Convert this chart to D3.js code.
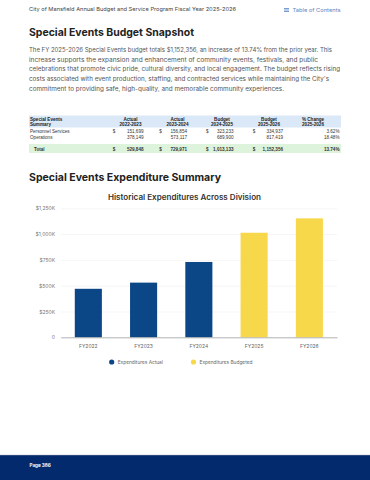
<!DOCTYPE html>
<html><head><meta charset="utf-8">
<script src="https://cdn.jsdelivr.net/npm/d3@7"></script>
<style>
html,body{margin:0;padding:0;background:#fff;}
svg{display:block;}
</style></head>
<body>
<svg id="page" width="370" height="480"></svg>
<script>
// ---- data ----
const years = ["FY2022","FY2023","FY2024","FY2025","FY2026"];
const expenditures = [470000, 529848, 729971, 1013133, 1152356];
const expTypes = ["Actual","Actual","Actual","Budgeted","Budgeted"];
const yTickValues = [0, 250000, 500000, 750000, 1000000, 1250000];
const yTickLabels = ["0","$250K","$500K","$750K","$1,000K","$1,250K"];
const legendLabels = ["Expenditures Actual","Expenditures Budgeted"];

const tableHead1 = ["Special Events","Actual","Actual","Budget","Budget","% Change"];
const tableHead2 = ["Summary","2022-2023","2023-2024","2024-2025","2025-2026","2025-2026"];
const rowNames = ["Personnel Services","Operations","Total"];
const col2022 = ["151,699","378,149","529,848"];
const col2023 = ["156,854","573,117","729,971"];
const col2024 = ["323,233","689,900","1,013,133"];
const col2025 = ["334,937","817,419","1,152,356"];
const colPct = ["3.62%","18.48%","13.74%"];
const showDollar = [true,false,true];

const bodyLines = [
 "The FY 2025-2026 Special Events budget totals $1,152,356, an increase of 13.74% from the prior year. This",
 "increase supports the expansion and enhancement of community events, festivals, and public",
 "celebrations that promote civic pride, cultural diversity, and local engagement. The budget reflects rising",
 "costs associated with event production, staffing, and contracted services while maintaining the City's",
 "commitment to providing safe, high-quality, and memorable community experiences."
];
const bodyWidths = [303, 289, 311, 300, 255];

const svg = d3.select("#page");
const F = "Inter, 'Open Sans', sans-serif";

// ---- page header ----
svg.append("text").attr("x",29).attr("y",11).attr("font-family",F).attr("font-size",5.2)
  .attr("fill","#444").attr("textLength",207).attr("lengthAdjust","spacingAndGlyphs")
  .text("City of Mansfield Annual Budget and Service Program Fiscal Year 2025-2026");
// TOC icon
[0,1.6,3.2].forEach(d=>svg.append("rect").attr("x",284).attr("y",8+d).attr("width",5).attr("height",0.8).attr("fill","#5a86c5"));
svg.append("text").attr("x",292.5).attr("y",12).attr("font-family",F).attr("font-size",5.2)
  .attr("fill","#5a86c5").attr("textLength",48).attr("lengthAdjust","spacingAndGlyphs").text("Table of Contents");

svg.append("text").attr("x",29).attr("y",35.5).attr("font-family",F).attr("font-weight",700)
  .attr("font-size",10.5).attr("fill","#222").attr("textLength",165).attr("lengthAdjust","spacingAndGlyphs")
  .text("Special Events Budget Snapshot");

bodyLines.forEach((t,i)=>{
  svg.append("text").attr("x",29).attr("y",52+i*9.65).attr("font-family",F).attr("font-size",5.6)
    .attr("fill","#555").attr("textLength",bodyWidths[i]).attr("lengthAdjust","spacingAndGlyphs").text(t);
});

// ---- table ----
const TF = "'Liberation Sans', Arial, sans-serif";
svg.append("rect").attr("x",29).attr("y",115.5).attr("width",312).attr("height",12).attr("fill","#dbe8f7");
svg.append("rect").attr("x",29).attr("y",144).attr("width",312).attr("height",9).attr("fill","#def3dc");
const hdrX = [30,130.5,177.5,222,269,313];
[tableHead1,tableHead2].forEach((row,r)=>{
  row.forEach((t,i)=>{
    svg.append("text").attr("x",hdrX[i]).attr("y",120.5+r*5.8).attr("font-family",TF).attr("font-weight",700)
      .attr("font-size",4.6).attr("fill","#222").attr("text-anchor",i===0?"start":"middle").text(t);
  });
});
const dollarX = [112.7,159.3,206,252.7];
const valRight = [143.5,187,233.5,283];
const cols = [col2022,col2023,col2024,col2025];
const rowY = [133,139,150.5];
rowNames.forEach((name,r)=>{
  const bold = r===2;
  const g = svg.append("g").attr("font-family",TF).attr("font-size",4.6).attr("fill","#333")
    .attr("font-weight",bold?700:400);
  g.append("text").attr("x",bold?34:30).attr("y",rowY[r]).text(name);
  cols.forEach((c,ci)=>{
    if(showDollar[r]) g.append("text").attr("x",dollarX[ci]).attr("y",rowY[r]).text("$");
    g.append("text").attr("x",valRight[ci]).attr("y",rowY[r]).attr("text-anchor","end").text(c[r]);
  });
  g.append("text").attr("x",339.5).attr("y",rowY[r]).attr("text-anchor","end").text(colPct[r]);
});

svg.append("text").attr("x",29).attr("y",180.5).attr("font-family",F).attr("font-weight",700)
  .attr("font-size",10.5).attr("fill","#222").attr("textLength",192).attr("lengthAdjust","spacingAndGlyphs")
  .text("Special Events Expenditure Summary");

// ---- chart ----
const chart = svg.append("g");
chart.append("text").attr("x",184.5).attr("y",199.5).attr("text-anchor","middle").attr("font-family",F)
  .attr("font-weight",600).attr("font-size",7.6).attr("fill","#333")
  .attr("textLength",153).attr("lengthAdjust","spacingAndGlyphs")
  .text("Historical Expenditures Across Division");

const x = d3.scaleBand().domain(years).range([60.7,337]).paddingInner(0.51).paddingOuter(0.255);
const y = d3.scaleLinear().domain([0,1250000]).range([337.3,208.3]);
const color = d3.scaleOrdinal().domain(["Actual","Budgeted"]).range(["#0b4786","#f8d84b"]);

const yAxis = d3.axisLeft(y).tickValues(yTickValues).tickSize(-(337-61))
  .tickFormat((d,i)=>yTickLabels[i]);
const gy = chart.append("g").attr("transform","translate(61,0)").call(yAxis);
gy.select(".domain").remove();
gy.selectAll(".tick line").attr("stroke","#efefef").attr("stroke-width",0.6);
gy.selectAll(".tick text").attr("x",-6).attr("font-family",F).attr("font-size",5).attr("fill","#777");

const data = years.map((yr,i)=>({yr, v:expenditures[i], t:expTypes[i]}));
chart.selectAll("rect.bar").data(data).enter().append("rect").attr("class","bar")
  .attr("x",d=>x(d.yr)).attr("width",x.bandwidth())
  .attr("y",d=>y(d.v)).attr("height",d=>y(0)-y(d.v)).attr("fill",d=>color(d.t));

const xAxis = d3.axisBottom(x).tickSize(0).tickPadding(7);
const gx = chart.append("g").attr("transform",`translate(0,${y(0)})`).call(xAxis);
gx.select(".domain").attr("stroke","#999").attr("stroke-width",0.7);
gx.selectAll(".tick text").attr("font-family",F).attr("font-size",5).attr("fill","#666");

// legend
const lg = chart.append("g").attr("font-family",F).attr("font-size",4.8).attr("fill","#666");
const lx = [111.7,193.5];
legendLabels.forEach((l,i)=>{
  lg.append("circle").attr("cx",lx[i]).attr("cy",362).attr("r",2.6).attr("fill",color.range()[i]);
  lg.append("text").attr("x",lx[i]+6).attr("y",363.8).text(l);
});

// ---- footer ----
svg.append("rect").attr("x",0).attr("y",455).attr("width",370).attr("height",25).attr("fill","#022a6c");
svg.append("line").attr("x1",0).attr("x2",370).attr("y1",455.3).attr("y2",455.3).attr("stroke","#5b6f99").attr("stroke-width",0.6);
svg.append("text").attr("x",29.5).attr("y",467).attr("font-family",F).attr("font-weight",700)
  .attr("font-size",4.6).attr("fill","#fff").text("Page 386");
</script>
</body></html>
